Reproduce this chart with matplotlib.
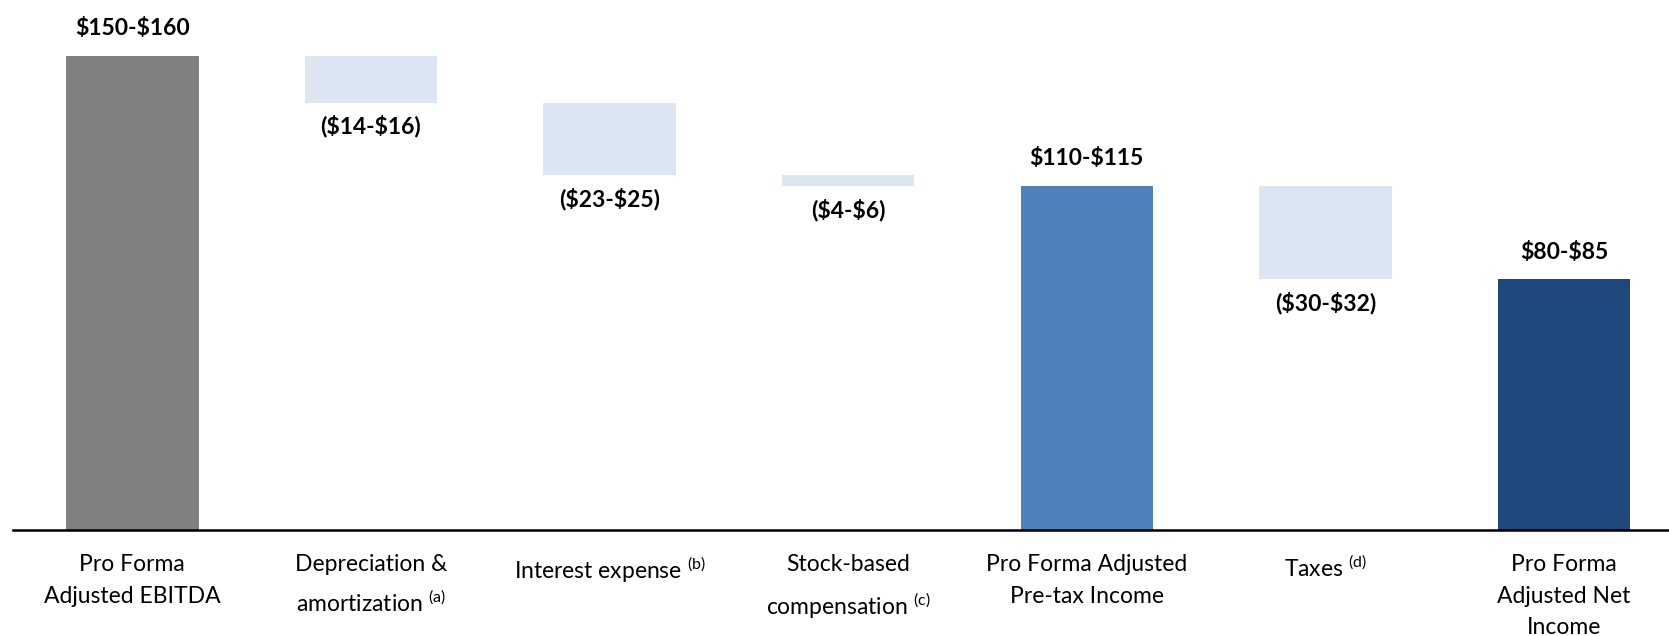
import matplotlib
matplotlib.use("Agg")
import matplotlib.pyplot as plt
import numpy as np

plt.rcParams["font.family"] = ["Lato", "DejaVu Sans"]
plt.rcParams["mathtext.fontset"] = "custom"
plt.rcParams["mathtext.rm"] = "Lato"

# waterfall data ($M, midpoints)
categories = [
    "Pro Forma\nAdjusted EBITDA",
    "Depreciation &\namortization $^{\\mathrm{(a)}}$",
    "Interest expense $^{\\mathrm{(b)}}$",
    "Stock-based\ncompensation $^{\\mathrm{(c)}}$",
    "Pro Forma Adjusted\nPre-tax Income",
    "Taxes $^{\\mathrm{(d)}}$",
    "Pro Forma\nAdjusted Net\nIncome",
]
values = [155.0, -15.3, -23.7, -3.5, 112.5, -30.6, 81.9]
is_total = [True, False, False, False, True, False, True]
value_labels = ["$150-$160", "($14-$16)", "($23-$25)", "($4-$6)",
                "$110-$115", "($30-$32)", "$80-$85"]
colors = ["#808080", "#DCE6F2", "#DCE6F2", "#DCE6F2",
          "#4F81BD", "#DCE6F2", "#1F497D"]

# floating bar bottoms / heights
bottoms, heights = [], []
running = 0.0
for v, tot in zip(values, is_total):
    if tot:
        bottoms.append(0.0)
        heights.append(v)
        running = v
    else:
        bottoms.append(running + v)
        heights.append(-v)
        running = running + v

fig = plt.figure(figsize=(16.69, 6.36), dpi=100)
ax = fig.add_axes([13 / 1669, 106 / 636, 1 - 13 / 1669, 520 / 636])

x = np.arange(len(categories))
ax.bar(x, heights, bottom=bottoms, width=0.555, color=colors, zorder=2)

for xi, b, h, lab, tot in zip(x, bottoms, heights, value_labels, is_total):
    if tot:
        ax.annotate(lab.replace("$", r"\$"), (xi, b + h), xytext=(0, 12),
                    textcoords="offset points", ha="center", va="bottom",
                    fontsize=16.5, fontweight="bold", annotation_clip=False)
    else:
        ax.annotate(lab.replace("$", r"\$"), (xi, b), xytext=(0, -9),
                    textcoords="offset points", ha="center", va="top",
                    fontsize=16.5, fontweight="bold", annotation_clip=False)

for xi, cat in zip(x, categories):
    ax.annotate(cat, (xi, 0), xytext=(0, -17.5), textcoords="offset points",
                ha="center", va="top", fontsize=16.5, linespacing=1.62,
                annotation_clip=False)

ax.set_xlim(-0.5, 6.44)
ax.set_ylim(0, 170)
ax.axhline(0, color="black", linewidth=1.8, zorder=3, clip_on=False)
for s in ax.spines.values():
    s.set_visible(False)
ax.set_xticks([])
ax.set_yticks([])

fig.savefig("out.png", dpi=100)
